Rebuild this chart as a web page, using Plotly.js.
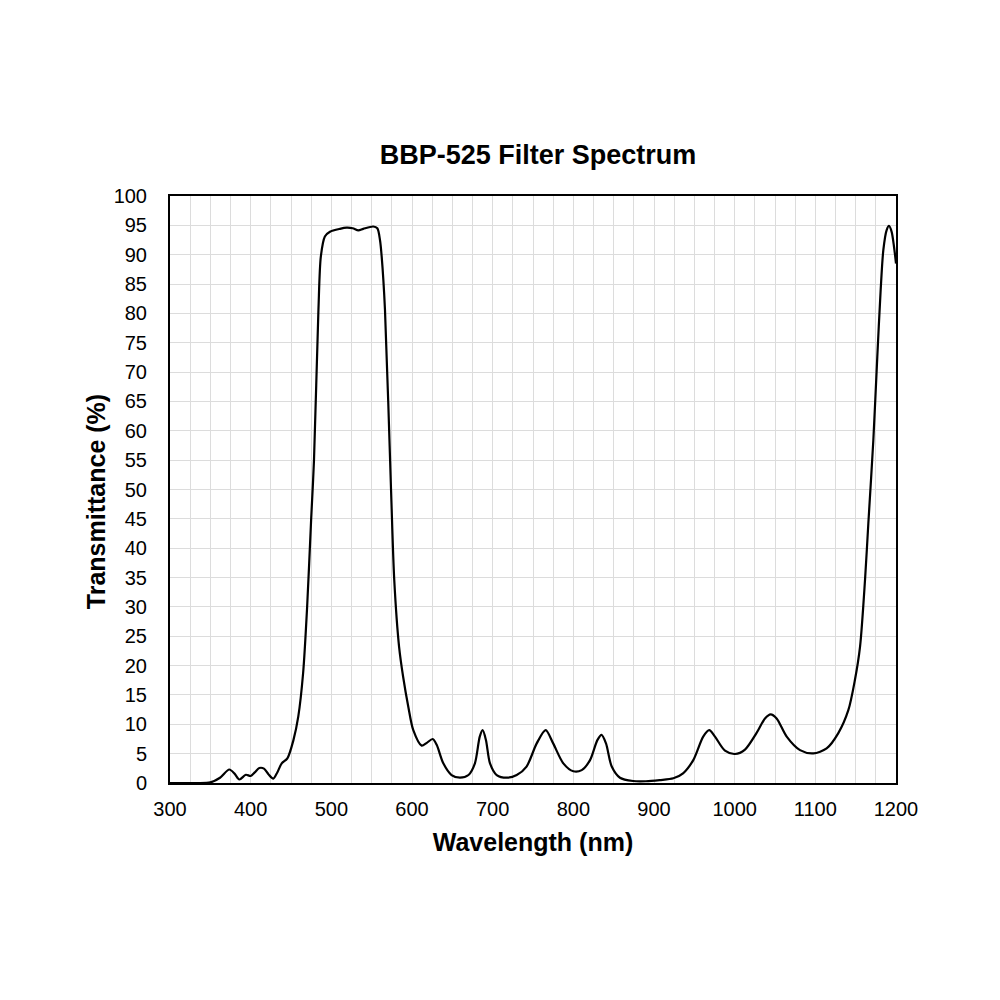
<!DOCTYPE html>
<html>
<head>
<meta charset="utf-8">
<script src="https://cdn.plot.ly/plotly-3.0.1.min.js"></script>
<style>
  html, body { margin: 0; padding: 0; background: #fff; }
  #myDiv { width: 1000px; height: 1000px; }
</style>
</head>
<body>
<div id="myDiv"></div>
<script>
// wavelength (nm) and transmittance (%)
const wavelength = [
    300, 330, 350, 362, 373.5, 380, 386, 394, 400, 405, 410.7, 416.5, 422, 428,
    433, 438.5, 445.5, 453, 459, 465, 470, 475, 478.5, 484, 487, 492, 498.3,
    510.7, 519, 526.5, 533.5, 539.6, 552, 557, 560.3, 562.4, 566.5, 574, 578,
    584, 589, 595.4, 601.6, 612, 618, 625.7, 630.6, 638.8, 649, 659.5, 670,
    678, 684, 687.6, 691.7, 696.7, 705, 717.4, 729.8, 742, 754.6, 765.7, 775,
    787.6, 800, 810.4, 820.7, 829.8, 835, 840.5, 847.6, 857.8, 874, 890, 907,
    924, 936, 948.7, 961, 968.5, 975.6, 988, 1000.4, 1012.8, 1027, 1037.6,
    1044.6, 1052, 1064.5, 1081, 1097.5, 1114, 1128.5, 1140.9, 1149, 1155.4,
    1161.6, 1165.7, 1171.9, 1176.8, 1181, 1184.3, 1188.4, 1191.3, 1194.6,
    1197.5, 1200
];
const transmittance = [
    0, 0, 0.1, 0.9, 2.3, 1.6, 0.6, 1.4, 1.2, 1.8, 2.55, 2.45, 1.5, 0.75,
    1.8, 3.35, 4.2, 7.3, 11.3, 18.7, 30, 45, 55, 80.6, 89.7, 93.1, 93.9,
    94.4, 94.6, 94.5, 94.15, 94.4, 94.8, 94.5, 92.5, 89.7, 80.6, 50, 34.6,
    23.2, 18.1, 13, 9.0, 6.36, 6.8, 7.5, 6.5, 3.35, 1.36, 0.9, 1.36,
    3.35, 7.9, 9.0, 7.3, 3.35, 1.36, 0.9, 1.36, 2.8, 6.75, 9.0, 6.75,
    3.35, 2.0, 2.2, 3.9, 7.3, 8.2, 6.75, 2.8, 0.9, 0.34, 0.3, 0.5,
    0.8, 1.65, 3.9, 7.9, 9.0, 7.9, 5.5, 4.94, 5.7, 8.5, 11.0,
    11.7, 11.0, 7.9, 5.6, 5.05, 5.9, 8.5, 12.4, 17.5, 23.2,
    34.6, 44.2, 58.4, 72.6, 84, 90.8, 94.2, 94.9, 93.9,
    91.4, 88.5
];

const xTickVals = [300, 400, 500, 600, 700, 800, 900, 1000, 1100, 1200];
const yTickVals = [0, 5, 10, 15, 20, 25, 30, 35, 40, 45, 50, 55, 60, 65, 70, 75, 80, 85, 90, 95, 100];

var data = [
    {
        x: wavelength,
        y: transmittance,
        type: 'scatter',
        mode: 'lines',
        line: { color: '#000000', width: 2.2, shape: 'spline', smoothing: 0.8 },
        hoverinfo: 'none',
        showlegend: false
    }
];

var fam = 'Liberation Sans, Arial, sans-serif';
var axisFont = { family: fam, size: 20, color: '#000' };

var layout = {
    width: 1000,
    height: 1000,
    paper_bgcolor: '#ffffff',
    plot_bgcolor: '#ffffff',
    margin: { l: 170, r: 104, t: 196, b: 217 },
    title: {
        text: '<b>BBP-525 Filter Spectrum</b>',
        font: { family: fam, size: 27, color: '#000' },
        x: 0.538,
        xanchor: 'center',
        y: 0.845,
        yanchor: 'middle',
        yref: 'container'
    },
    xaxis: {
        range: [300, 1200],
        tickvals: xTickVals,
        ticktext: xTickVals.map(String),
        tickfont: axisFont,
        ticks: '',
        ticklabelstandoff: 7,
        showgrid: true,
        gridcolor: '#dcdcdc',
        gridwidth: 1,
        minor: { dtick: 25, tick0: 300, showgrid: true, gridcolor: '#dcdcdc', gridwidth: 1, ticks: '' },
        showline: true,
        linecolor: '#000',
        linewidth: 2,
        mirror: true,
        zeroline: false,
        title: { text: '<b>Wavelength (nm)</b>', font: { family: fam, size: 25, color: '#000' }, standoff: 14 }
    },
    yaxis: {
        range: [0, 100],
        tickvals: yTickVals,
        ticktext: yTickVals.map(String),
        tickfont: axisFont,
        ticks: '',
        ticklabelstandoff: 17,
        showgrid: true,
        gridcolor: '#dcdcdc',
        gridwidth: 1,
        showline: true,
        linecolor: '#000',
        linewidth: 2,
        mirror: true,
        zeroline: false
    },
    annotations: [
        {
            text: '<b>Transmittance (%)</b>',
            font: { family: fam, size: 25, color: '#000' },
            textangle: -90,
            xref: 'paper',
            yref: 'paper',
            x: -0.102,
            y: 0.48,
            xanchor: 'center',
            yanchor: 'middle',
            showarrow: false
        }
    ]
};

Plotly.newPlot('myDiv', data, layout, { displayModeBar: false, staticPlot: true });
</script>
</body>
</html>
